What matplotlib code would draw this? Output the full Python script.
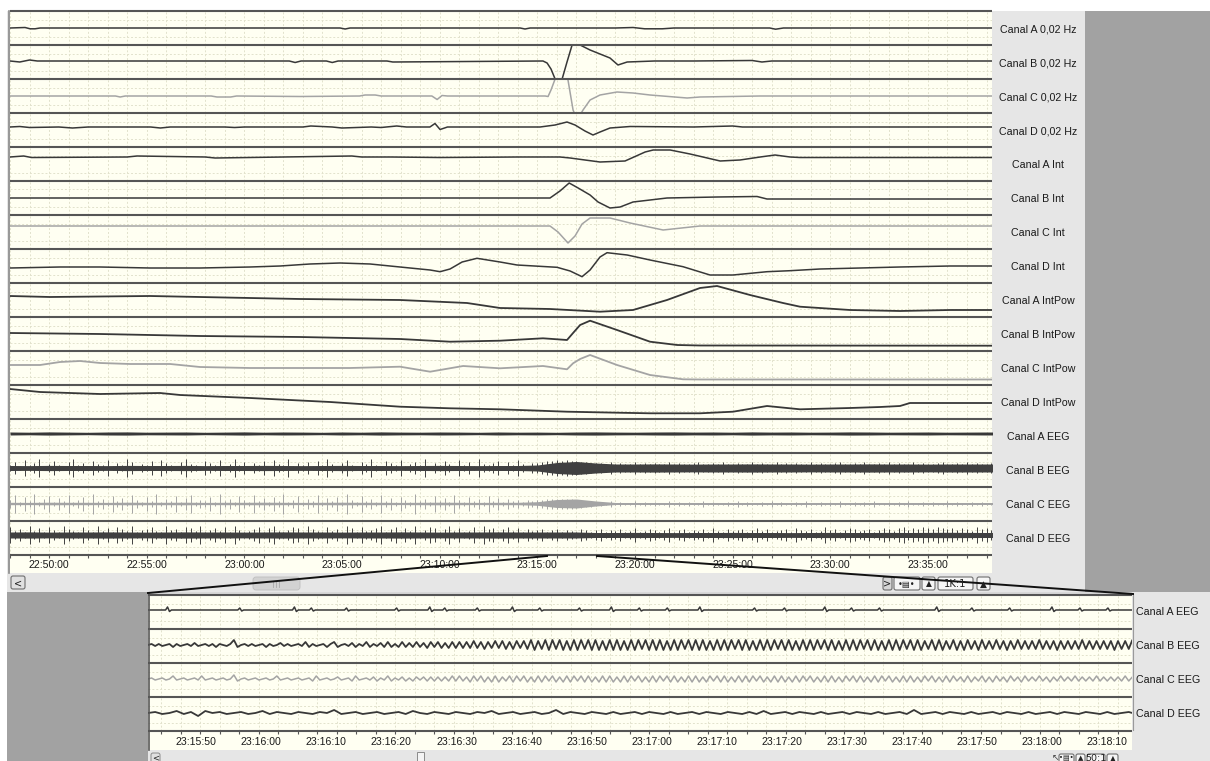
import numpy as np
import matplotlib
matplotlib.use("Agg")
import matplotlib.pyplot as plt
from matplotlib.patches import Rectangle, FancyBboxPatch

plt.rcParams['font.family'] = ['Liberation Sans', 'DejaVu Sans']

# ---------------- DATA ----------------
# top view: time in minutes after 22:50:00, amplitude in display units (channel half-range 17)
TOP_TIME_POS = [0, 5, 10, 15, 20, 25, 30, 35, 40, 45]
TOP_TIME_LABELS = ["22:50:00", "22:55:00", "23:00:00", "23:05:00", "23:10:00",
                   "23:15:00", "23:20:00", "23:25:00", "23:30:00", "23:35:00"]
TOP_LABELS = ["Canal A 0,02 Hz", "Canal B 0,02 Hz", "Canal C 0,02 Hz", "Canal D 0,02 Hz",
              "Canal A Int", "Canal B Int", "Canal C Int", "Canal D Int",
              "Canal A IntPow", "Canal B IntPow", "Canal C IntPow", "Canal D IntPow",
              "Canal A EEG", "Canal B EEG", "Canal C EEG", "Canal D EEG"]

A002_T = [-2.0, -1.23, -0.97, -0.72, -0.46, 14.9, 15.16, 15.41, 24.12, 24.37, 24.63, 29.0, 29.9, 30.5, 31.4, 32.0, 36.9, 37.2, 37.6, 48.28]
A002_V = [0, 0.5, -0.8, -0.8, 0, 0, -1, 0, 0, -1, 0, 0, 0.5, -0.8, -0.8, 0, 0, -1.2, 0, 0]
B002_T = [-2.0, -1.5, -1.0, -0.6, 12.3, 12.6, 12.9, 14.2, 14.5, 14.8, 17.3, 17.6, 25.29, 25.5, 25.7, 25.91, 26.11, 26.27,
          26.52, 26.78, 26.98, 27.19, 27.7, 28.21, 28.72, 29.13, 29.6, 31.0, 33.0, 36.0, 36.5, 37.0, 48.28]
B002_V = [1, 0, 2, 1, 1, -0.5, 1, 1, -0.5, 1, 1, 0, 1, -1, -7, -17, -25, -17, 0, 17, 21, 17, 12, 8, 4, -3, 0, 1, 1, 1.5, 0, 1, 1]
C002_T = [-2.0, 3.4, 3.64, 3.9, 8.3, 8.6, 9.3, 9.6, 12.85, 15.9, 16.18, 16.7, 17.0, 19.6, 19.87, 20.12, 20.4, 25.4, 25.55,
          25.7, 25.91, 26.11, 26.37, 26.57, 26.83, 27.04, 27.34, 27.7, 28.21, 29.08, 29.9, 30.77, 32.67, 33.33, 36.4, 48.28]
C002_V = [0, 0, -1, 0, 0, -1, -1, 0, -0.5, 0, 1, 1, 0, 0, -3.5, 0.5, 0, 0, -0.5, 6, 17, 24, 24, 16, -14, -24, -14, -4, 1, 4,
          3, 1, -2, -1, 0, 0]
D002_T = [-2.0, -1.5, -1.0, 0.5, 1.2, 2.0, 5.2, 5.7, 6.2, 9.0, 9.5, 10.0, 13.0, 13.4, 14.5, 15.0, 16.5, 17.0, 17.8, 18.3,
          19.5, 19.76, 20.02, 20.4, 25.14, 25.91, 26.52, 26.93, 27.44, 27.85, 28.21, 28.72, 29.75, 33.0, 35.0, 35.5, 40.0, 48.28]
D002_V = [3, 3.5, 2.5, 3, 2, 3, 3, 2, 3, 3, 2.5, 3, 3, 4, 3, 2, 3, 2.5, 4, 3, 3, 6.5, 0.5, 3, 3, 5, 8, 5, -1, -5, -2, 2, 3.5,
          3, 4, 3, 3, 3]
AINT_T = [-2.0, -1.3, -0.9, 4.0, 4.5, 8.0, 8.5, 12.0, 15.5, 16.0, 17.5, 20.0, 24.0, 26.16, 26.68, 27.44, 28.21, 29.49, 30.52,
          30.93, 31.8, 32.82, 34.36, 35.38, 36.41, 37.17, 37.94, 38.45, 48.28]
AINT_V = [7, 8, 6.5, 7, 8, 7, 6, 7, 8, 7, 7, 6.5, 7, 7, 6, 4, 2, 3, 12, 14, 14, 10, 3, 4, 7, 9, 7, 6.5, 6.5]
BINT_T = [-2.0, 25.65, 26.16, 26.63, 27.09, 27.7, 28.11, 28.72, 29.24, 29.9, 31.64, 34.2, 36.25, 36.76, 48.28]
BINT_V = [0, 0, 7, 15, 10, 3, -4, -10, -9, -4, 0, 1, 1.5, -1, -1]
CINT_T = [-2.0, 25.65, 26.06, 26.57, 26.93, 27.29, 27.7, 28.72, 29.75, 31.44, 33.33, 38.45, 48.28]
CINT_V = [6, 6, 0, -11, -4, 8, 14, 14, 9, 2, 6, 6, 6]
DINT_T = [-2.0, 0.56, 2.61, 5.17, 7.73, 10.29, 11.83, 13.36, 14.9, 16.44, 17.97, 19.51, 20.02, 20.53, 21.15, 21.91, 23.09,
          23.96, 26.01, 26.68, 27.29, 27.7, 28.21, 28.57, 29.6, 30.77, 32.46, 33.84, 35.02, 36.76, 37.94, 39.48, 41.53, 43.57,
          46.13, 48.28]
DINT_V = [-2, -1, -1, -2, -2, -1, 0, 2, 3, 2, -1, -4, -5.7, -3, 4, 7.7, 4, 1, -1.3, -5, -10.7, -4, 9, 13.3, 11, 6, -0.7, -9,
          -9, -5.7, -4.7, -3, -2, -1, 0, 0]
APOW_T = [-2.0, 0.05, 2.61, 5.17, 7.73, 10.29, 12.85, 15.41, 17.97, 21.4, 23.09, 25.65, 28.21, 29.9, 31.64, 33.33, 34.2, 35.89,
          37.58, 38.45, 41.01, 43.57, 46.13, 48.28]
APOW_V = [4, 3, 3.5, 4, 3, 2, 1, 0.5, 0, -3, -8, -9, -11.7, -10, 0, 12, 14, 5, -3, -6.7, -10, -11, -10, -10]
BPOW_T = [-2.0, 2.61, 7.73, 12.85, 17.97, 20.53, 23.09, 25.29, 26.52, 26.83, 27.19, 27.7, 29.08, 30.77, 32.16, 33.33, 48.28]
BPOW_V = [1, 0, -2, -3, -5, -7.7, -6.7, -4.3, -6, 1, 9, 13.3, 4, -7.7, -11, -11.5, -11.7]
CPOW_T = [-2.0, -0.46, 0.56, 1.59, 2.61, 4.15, 6.2, 7.73, 10.29, 12.85, 15.41, 17.97, 19.51, 21.2, 23.09, 25.29, 26.52, 26.83,
          27.19, 27.7, 29.08, 30.77, 32.46, 33.33, 48.28]
CPOW_V = [3, 3, 6, 7, 5, 4, 4, 1, 0, 0, 0, 1.3, -3.7, 2, -0.3, 2, -1.3, 4.7, 9, 13, 3, -7, -11.3, -11.5, -11.5]
DPOW_T = [-2.0, -0.46, 2.61, 5.68, 6.71, 10.29, 14.39, 17.97, 20.53, 23.09, 26.52, 29.08, 30.77, 33.33, 35.02, 36.76, 38.45,
          41.01, 42.55, 43.57, 44.08, 46.13, 48.28]
DPOW_V = [13, 10, 8, 9, 7, 4, 0, -4.7, -6.3, -7.3, -9.7, -10.7, -11.3, -11.3, -9.7, -4, -7.3, -6, -5, -4, -1, -1, -1]

# EEG (top): band half-width per minute from -2 min, spike half-heights every 0.25 min from -2 min
A_EEG_CORE = [1.5, 1.3, 1.6, 1.4, 1.2, 1.5, 1.6, 1.3, 1.4, 1.5, 1.2, 1.4, 1.6, 1.3, 1.5, 1.4, 1.2, 1.5, 1.3, 1.6,
              1.4, 1.3, 1.5, 1.4, 1.2, 1.5, 1.3, 1.4, 1.2, 1.5, 1.6, 1.4, 1.3, 1.5, 1.6, 1.4, 1.5, 1.3, 1.6, 1.4,
              1.5, 1.3, 1.4, 1.6, 1.5, 1.3, 1.4, 1.5, 1.3, 1.4, 1.5, 1.4]
B_EEG_CORE = [2.5, 2.4, 2.6, 2.5, 2.5, 2.4, 2.6, 2.5, 2.5, 2.6, 2.4, 2.5, 2.5, 2.6, 2.5, 2.4, 2.5, 2.6, 2.5, 2.5,
              2.4, 2.5, 2.6, 2.5, 2.4, 2.5, 2.5, 3.0, 5.5, 6.5, 5.0, 4.0, 4.0, 4.1, 4.0, 3.9, 4.0, 4.0, 4.1, 4.0,
              4.0, 3.9, 4.0, 4.0, 4.1, 4.0, 4.0, 3.9, 4.0, 4.0, 4.0, 4.0]
C_EEG_CORE = [1.2, 1.1, 1.3, 1.2, 1.2, 1.1, 1.3, 1.2, 1.2, 1.3, 1.1, 1.2, 1.2, 1.3, 1.2, 1.1, 1.2, 1.3, 1.2, 1.2,
              1.1, 1.2, 1.3, 1.2, 1.1, 1.2, 1.2, 1.8, 4.0, 4.5, 2.5, 1.0, 1.0, 1.0, 1.0, 1.0, 1.0, 1.0, 1.0, 1.0,
              1.0, 1.0, 1.0, 1.0, 1.0, 1.0, 1.0, 1.0, 1.0, 1.0, 1.0, 1.0]
D_EEG_CORE = [3.0, 3.1, 2.9, 3.0, 3.0, 3.1, 3.0, 2.9, 3.0, 3.1, 3.0, 3.0, 2.9, 3.0, 3.1, 3.0, 3.0, 2.9, 3.0, 3.0,
              3.1, 3.0, 2.9, 3.0, 3.0, 3.1, 3.0, 3.0, 3.0, 3.0, 2.5, 2.5, 2.6, 2.5, 2.4, 2.5, 2.5, 2.6, 2.5, 2.5,
              2.4, 2.5, 2.6, 2.5, 2.5, 2.6, 2.5, 2.6, 2.7, 2.6, 2.5, 2.6]
B_EEG_SPK = [3, 6, 2, 8, 3, 5, 9, 2, 4, 7, 3, 2, 6, 9, 3, 5, 2, 7, 4, 3, 8, 2, 5, 3, 9, 6, 2, 4, 3, 7,
             2, 8, 5, 3, 2, 6, 9, 4, 3, 2, 7, 5, 3, 8, 2, 4, 9, 3, 6, 2, 5, 3, 7, 2, 8, 4, 3, 9, 2, 5,
             3, 6, 2, 7, 3, 9, 4, 2, 5, 8, 3, 2, 6, 4, 9, 3, 2, 7, 5, 3, 8, 2, 4, 6, 3, 9, 2, 5, 3, 7,
             4, 2, 8, 3, 6, 2, 9, 4, 3, 5, 7, 2, 6, 3, 8, 4, 2, 5,
             5, 6, 7, 7, 8, 7, 8, 7, 7, 6, 6, 5, 5,
             5, 4, 6, 4, 5, 4, 4, 6, 4, 5, 4, 5, 4, 4, 6, 4, 5, 4, 4, 5, 6, 4, 4, 5, 4, 6, 4, 4, 5, 4,
             4, 6, 4, 5, 4, 4, 6, 4, 5, 4, 5, 4, 4, 6, 4, 5, 4, 4, 5, 6, 4, 4, 5, 4, 6, 4, 4, 5, 4, 6,
             4, 5, 4, 4, 6, 4, 5, 4, 4, 5, 6, 4, 4, 5, 4, 6, 4, 5, 4, 4, 5, 4, 6, 4]
C_EEG_SPK = [4, 9, 2, 7, 3, 10, 2, 5, 8, 2, 6, 3, 9, 2, 4, 7, 2, 10, 3, 5, 2, 8, 3, 6, 2, 9, 4, 2, 7, 3,
             10, 2, 5, 3, 8, 2, 6, 9, 2, 4, 3, 7, 2, 10, 3, 5, 2, 8, 4, 2, 9, 3, 6, 2, 7, 3, 10, 2, 4, 8,
             2, 5, 3, 9, 2, 6, 3, 7, 2, 10, 4, 2, 8, 3, 5, 2, 9, 3, 6, 2, 7, 4, 2, 10, 3, 5, 2, 8, 3, 6,
             2, 9, 4, 2, 7, 3, 5, 2, 8, 3, 6, 2, 5, 3, 4, 2, 4, 3,
             4, 4, 5, 5, 5, 5, 5, 5, 4, 4, 3, 3, 2,
             2, 1, 3, 1, 2, 1, 1, 3, 1, 2, 1, 2, 1, 1, 3, 1, 2, 1, 2, 1, 1, 3, 1, 2, 1, 1, 2, 1, 3, 1,
             2, 1, 1, 2, 1, 3, 1, 2, 1, 1, 2, 1, 3, 1, 1, 2, 1, 2, 1, 3, 1, 1, 2, 1, 2, 1, 3, 1, 1, 2,
             1, 2, 1, 3, 1, 1, 2, 1, 2, 1, 1, 3, 1, 2, 1, 1, 2, 1, 2, 1, 1, 2, 1, 2]
D_EEG_SPK = [8, 4, 6, 3, 9, 4, 7, 3, 8, 5, 3, 9, 6, 4, 3, 8, 5, 3, 9, 4, 7, 3, 8, 6, 4, 9, 3, 5, 6, 8,
             4, 3, 9, 5, 6, 3, 8, 7, 4, 9, 3, 5, 7, 4, 8, 3, 9, 5, 3, 4, 6, 8, 3, 7, 9, 4, 3, 5, 8, 7,
             3, 9, 6, 4, 3, 8, 4, 6, 3, 9, 7, 3, 8, 4, 5, 7, 9, 3, 6, 8, 3, 7, 4, 9, 3, 5, 8, 7, 3, 6,
             9, 4, 7, 3, 4, 8, 3, 9, 6, 7, 3, 6, 8, 4, 7, 3, 6, 4, 5, 6, 3, 5, 6, 3, 5, 4, 3, 6, 5, 3,
             5, 6, 3, 5, 4, 6, 3, 4, 7, 3, 4, 6, 5, 3, 5, 7, 3, 5, 6, 3, 5, 4, 6, 3, 7, 4, 3, 6, 4, 5,
             6, 3, 5, 7, 4, 6, 3, 4, 5, 6, 3, 7, 5, 4, 6, 3, 4, 8, 5, 6, 3, 5, 7, 6, 4, 5, 6, 3, 5, 7,
             6, 4, 7, 8, 5, 7, 6, 8, 7, 6, 8, 7, 6, 7, 5, 7, 6, 4, 8, 6, 7, 5, 6, 8, 7, 5]

# bottom view: time in seconds after 23:15:50
BOT_TIME_POS = [0, 10, 20, 30, 40, 50, 60, 70, 80, 90, 100, 110, 120, 130, 140]
BOT_TIME_LABELS = ["23:15:50", "23:16:00", "23:16:10", "23:16:20", "23:16:30", "23:16:40", "23:16:50",
                   "23:17:00", "23:17:10", "23:17:20", "23:17:30", "23:17:40", "23:17:50", "23:18:00", "23:18:10"]
BOT_LABELS = ["Canal A EEG", "Canal B EEG", "Canal C EEG", "Canal D EEG"]
A2_BLIP_T = [-4.3, 6.8, 15.2, 17.8, 23.2, 30.9, 36.0, 38.3, 43.3, 48.7, 52.9, 59.0, 63.9, 68.2, 72.5, 77.5, 85.9, 90.5,
             96.7, 100.8, 105.1, 113.9, 119.3, 125.1, 131.6, 135.9, 140.2]
A2_BLIP_H = [3, 2, 3, 2, 2, 2, 3, 2, 2, 3, 2, 2, 3, 2, 2, 3, 2, 2, 3, 2, 2, 3, 2, 2, 3, 2, 2]
B2_V = [0, 1, -1, 1, -1, 0, 1, -2, 1, -1, 0, 1, -1, 2, -1, 0, 1, -1, 1, -2, 1, 0, -1, 1, 5, -2, 0, 1, -1, 1,
        -1, 0, 1, -2, 1, -1, 0, 2, -1, 1, -1, 0, 1, -1, 3, -2, 1, -1, 0, 1, -2, 1, 3, -2, 0, 1, -1, 2, -2, 1,
        -1, 3, -2, 1, -1, 2, -2, 3, -2, 1, -2, 3, -2, 2, -2, 3, -2, 2, -3, 3, -2, 3, -3, 2, -3, 3, -3,
        3, -3, 3, -3, 4, -3, 3, -4, 3, -3, 4, -3, 4, -4, 3, -4, 4, -3, 4, -4,
        5, -5, 4, -4, 5, -5, 5, -4, 5, -5, 4, -5, 5, -5, 5, -4, 5, -5, 5, -5,
        4, -5, 5, -5, 5, -5, 4, -5, 5, -5, 5, -4, 5, -5, 5, -5, 5, -5, 4, -5,
        5, -5, 5, -4, 5, -5, 5, -5, 5, -5, 4, -5, 5, -5, 5, -5, 5, -4, 5, -5,
        5, -5, 4, -5, 5, -5, 5, -5, 5, -4, 5, -5, 5, -5, 4, -5, 5, -5, 5, -5,
        5, -4, 5, -5, 5, -5, 4, -5, 5, -5, 5, -5, 5, -4, 5, -5, 5, -5, 4, -5,
        5, -5, 5, -5, 5, -4, 5, -5, 5, -5, 4, -4, 5, -5, 5, -5, 4, -4, 5, -5,
        4, -5, 5, -4, 4, -5, 5, -4, 4, -4, 5, -4, 4, -5, 4, -4, 5, -4, 4, -4,
        4, -4, 5, -4, 4, -4, 4, -5, 4, -4, 4, -4, 4, -4, 5, -4, 4, -4, 4, -4,
        4, -4, 4, -5, 4, -4, 4, -4, 5, -4, 4, -4, 4, -4, 4, -5, 4, -4, 4, -4]
C2_V = [0, 1, -1, 0, 1, -1, 0, 3, -1, 0, 1, -1, 0, 1, -1, 3, -1, 0, 1, -1, 0, 1, -1, 0, 4, -2, 0, 1, -1, 0,
        1, -1, 0, 1, -1, 0, 3, -1, 0, 1, -1, 0, 1, -1, 0, 1, -2, 3, -1, 0, 1, -1, 0, 2, -1, 0, 1, -2, 3, -1,
        0, 1, -1, 2, -2, 1, -1, 3, -2, 1, -1, 2, -2, 1, -2, 2, -1, 2, -2, 2, -2, 2, -2, 2, -2, 3, -2,
        3, -2, 2, -3, 3, -2, 3, -3, 2, -3, 3, -3, 2, -2, 3, -3, 3, -2, 3, -3,
        2, -3, 3, -3, 3, -2, 3, -3, 2, -3, 3, -3, 3, -2, 3, -3, 3, -3, 2, -3,
        3, -3, 3, -3, 2, -3, 3, -3, 3, -2, 3, -3, 2, -3, 3, -3, 3, -2, 3, -3,
        3, -3, 2, -3, 3, -3, 3, -3, 2, -3, 3, -2, 3, -3, 3, -3, 2, -3, 3, -3,
        3, -3, 3, -2, 3, -3, 2, -3, 3, -3, 3, -3, 2, -3, 3, -3, 3, -2, 3, -3,
        2, -3, 3, -3, 3, -3, 2, -3, 3, -2, 3, -3, 3, -3, 2, -3, 3, -3, 3, -2,
        3, -3, 2, -3, 3, -3, 3, -3, 2, -3, 3, -2, 3, -3, 2, -3, 3, -3, 3, -2,
        2, -3, 3, -3, 2, -2, 3, -3, 2, -3, 3, -2, 2, -3, 3, -2, 2, -3, 3, -2,
        2, -2, 3, -2, 2, -3, 2, -2, 3, -2, 2, -2, 3, -2, 2, -2, 2, -2, 3, -2,
        2, -2, 2, -2, 2, -2, 3, -2, 2, -2, 2, -3, 2, -2, 2, -2, 3, -2, 2, -2]
D2_V = [0, 1, -1, 0, 2, -1, 1, -3, 2, 0, 1, -1, 0, 1, -1, 0, 2, -1, 1, 0, -1, 1, 0, -1, 1, 0, 3, -1, 0, 1,
        -1, 0, 1, -1, 0, 1, -1, 2, 0, -1, 1, 0, -1, 1, 0, -1, 1, 0, 2, -1, 0, 1, -1, 0, 1, -1, 0, 3, -1, 1,
        0, -1, 1, 0, -1, 1, -1, 0, 1, -1, 1, 0, -1, 1, -1, 0, 1, -1, 1, 0, -1, 1, 0, -1, 1, -1, 2, -1, 0, 1,
        -1, 1, 0, -1, 1, -1, 0, 1, -1, 1, 0, -1, 1, -1, 0, 1, -1, 3, -1, 0, 1, -1, 1, 0, -1, 1, -1, 0, 1, -1,
        1, 0, -1, 1, -1, 0, 1, -1, 1, 0, -1, 1, 0, -1, 1, -1, 0, 1, -1, 0, 1, -1]

# ---------------- LAYOUT / STYLE ----------------
W, H = 1210, 761
CREAM = '#fffff2'
GRID = '#e2e2cc'
DARK = '#383838'
LIGHT = '#a4a4a4'
PANEL = '#e6e6e6'
SHADE = '#a2a2a2'

fig = plt.figure(figsize=(W / 100, H / 100), dpi=100)
fig.patch.set_facecolor('white')


def prect(x0, y0, x1, y1):
    return [x0 / W, 1 - y1 / H, (x1 - x0) / W, (y1 - y0) / H]


bg = fig.add_axes([0, 0, 1, 1], zorder=0)
bg.set_xlim(0, W); bg.set_ylim(H, 0); bg.axis('off')
bg.add_patch(Rectangle((7, 11), 1085 - 7, 592 - 11, color=PANEL, lw=0))
bg.add_patch(Rectangle((1085, 11), W - 1085, 592 - 11, color=SHADE, lw=0))
bg.add_patch(Rectangle((7, 592), 148 - 7, H - 592, color=SHADE, lw=0))
bg.add_patch(Rectangle((1132, 592), W - 1132, H - 592, color=PANEL, lw=0))
bg.add_patch(Rectangle((148, 750), 1132 - 148, H - 750, color=PANEL, lw=0))
bg.add_patch(Rectangle((148, 592), 1132 - 148, 3, color='#d8d8d8', lw=0))

TX0, TX1 = 10, 992
TOP_Y0, ROWH = 11, 34
TXLIM = (-2.0, 48.28)
BX0, BX1 = 148, 1132
BOT_Y0 = 595
BXLIM = (-7.4, 143.8)
BOT_GRID0 = -5.4


def chan_axes(x0, x1, y0, xlim, gx):
    ax = fig.add_axes(prect(x0, y0, x1, y0 + ROWH), zorder=2)
    ax.set_facecolor(CREAM)
    ax.set_xlim(*xlim); ax.set_ylim(-17, 17)
    for s in ax.spines.values():
        s.set_visible(False)
    ax.set_xticks([]); ax.set_yticks([])
    ax.vlines(gx, -17, 17, colors=GRID, lw=0.7, linestyles=(0, (2, 2)), zorder=1)
    ax.hlines([-8.5, 8.5], xlim[0], xlim[1], colors=GRID, lw=0.7, linestyles=(0, (2, 2)), zorder=1)
    return ax


top_grid = np.arange(-2, 49)
bot_grid = np.arange(BOT_GRID0, BXLIM[1], 3.0)

slow = [(A002_T, A002_V, DARK), (B002_T, B002_V, DARK), (C002_T, C002_V, LIGHT), (D002_T, D002_V, DARK),
        (AINT_T, AINT_V, DARK), (BINT_T, BINT_V, DARK), (CINT_T, CINT_V, LIGHT), (DINT_T, DINT_V, DARK),
        (APOW_T, APOW_V, DARK), (BPOW_T, BPOW_V, DARK), (CPOW_T, CPOW_V, LIGHT), (DPOW_T, DPOW_V, DARK)]
for i, (t, v, c) in enumerate(slow):
    ax = chan_axes(TX0, TX1, TOP_Y0 + i * ROWH, TXLIM, top_grid)
    lw = 1.3 if i >= 8 else 1.1
    ax.plot(t, v, color=c, lw=lw, zorder=3)

eeg = [(A_EEG_CORE, None, 2.5, DARK), (B_EEG_CORE, B_EEG_SPK, 2.0, '#404040'),
       (C_EEG_CORE, C_EEG_SPK, 0.5, LIGHT), (D_EEG_CORE, D_EEG_SPK, 3.0, '#404040')]
for j, (core, spk, base, c) in enumerate(eeg):
    ax = chan_axes(TX0, TX1, TOP_Y0 + (12 + j) * ROWH, TXLIM, top_grid)
    core = np.array(core, float)
    tc = TXLIM[0] + np.arange(len(core))
    ax.fill_between(tc, base - core, base + core, color=c, lw=0, zorder=3)
    if spk is not None:
        spk = np.array(spk, float)
        ts = TXLIM[0] + 0.25 * np.arange(len(spk))
        ax.vlines(ts, base - spk, base + spk, colors=c, lw=0.7, zorder=3)

# top time axis
axt = fig.add_axes(prect(TX0, 555, TX1, 573), zorder=2)
axt.set_facecolor(CREAM); axt.set_xlim(*TXLIM); axt.set_ylim(0, 1)
for s in axt.spines.values():
    s.set_visible(False)
axt.set_xticks([]); axt.set_yticks([])
axt.vlines(top_grid, 0.82, 1.0, colors='#555555', lw=0.8)
for p, lab in zip(TOP_TIME_POS, TOP_TIME_LABELS):
    axt.text(p, 0.42, lab, ha='center', va='center', fontsize=7.6, color='#1a1a1a')

# bottom channels
a2t, a2v = [BXLIM[0]], [0.0]
for bt, bh in zip(A2_BLIP_T, A2_BLIP_H):
    a2t += [bt - 0.4, bt - 0.1, bt + 0.2, bt + 0.5]
    a2v += [0, bh, -0.5 * bh, 0]
a2t.append(BXLIM[1]); a2v.append(0.0)
bot = [(a2t, np.array(a2v) + 2, DARK, 1.1),
       (BXLIM[0] + 0.55 * np.arange(len(B2_V)), np.array(B2_V, float) + 1, DARK, 1.3),
       (BXLIM[0] + 0.55 * np.arange(len(C2_V)), np.array(C2_V, float) + 1, LIGHT, 1.1),
       (BXLIM[0] + 1.1 * np.arange(len(D2_V)), np.array(D2_V, float) + 1, DARK, 1.3)]
for k, (t, v, c, lw) in enumerate(bot):
    ax = chan_axes(BX0, BX1, BOT_Y0 + k * ROWH, BXLIM, bot_grid)
    ax.plot(t, v, color=c, lw=lw, zorder=3)

axb = fig.add_axes(prect(BX0, 731, BX1, 750), zorder=2)
axb.set_facecolor(CREAM); axb.set_xlim(*BXLIM); axb.set_ylim(0, 1)
for s in axb.spines.values():
    s.set_visible(False)
axb.set_xticks([]); axb.set_yticks([])
axb.vlines(bot_grid, 0.82, 1.0, colors='#555555', lw=0.8)
for p, lab in zip(BOT_TIME_POS, BOT_TIME_LABELS):
    axb.text(p, 0.42, lab, ha='center', va='center', fontsize=7.6, color='#1a1a1a')

# overlay: separators, labels, scrollbars, zoom lines
ov = fig.add_axes([0, 0, 1, 1], zorder=10)
ov.set_xlim(0, W); ov.set_ylim(H, 0); ov.axis('off')
ov.patch.set_alpha(0)
for k in range(17):
    y = TOP_Y0 + k * ROWH
    ov.plot([TX0, TX1], [y, y], color='#555555', lw=1.5, solid_capstyle='butt')
ov.plot([9, 9], [11, 573], color='#8a8a8a', lw=1.2)
for k in range(5):
    y = BOT_Y0 + k * ROWH
    ov.plot([BX0, BX1], [y, y], color='#555555', lw=1.5, solid_capstyle='butt')
ov.plot([BX0 + 0.5, BX0 + 0.5], [594, 750], color='#555555', lw=1.2)
ov.plot([BX1 + 0.5, BX1 + 0.5], [594, 730], color='#9a9a9a', lw=0.8)

for i, lab in enumerate(TOP_LABELS):
    ov.text(1038, TOP_Y0 + i * ROWH + ROWH / 2 + 1, lab, ha='center', va='center', fontsize=7.7, color='#1a1a1a')
for k, lab in enumerate(BOT_LABELS):
    ov.text(1136, BOT_Y0 + k * ROWH + ROWH / 2, lab, ha='left', va='center', fontsize=7.7, color='#1a1a1a')


def button(x0, y0, x1, y1, txt, fs=7, fc='#f6f6f6', ty=None):
    ov.add_patch(FancyBboxPatch((x0, y0), x1 - x0, y1 - y0, boxstyle='round,pad=0,rounding_size=2',
                                fc=fc, ec='#6e6e6e', lw=0.8))
    ov.text((x0 + x1) / 2, (y0 + y1) / 2 + 0.5 if ty is None else ty, txt, ha='center', va='center',
            fontsize=fs, color='#222222', family=['DejaVu Sans'])


# top scrollbar
button(11, 576, 25, 589, '<', fs=7, fc='#e0e0e0')
ov.add_patch(FancyBboxPatch((253, 577), 47, 13, boxstyle='round,pad=0,rounding_size=3', fc='#d2d2d2', ec='#bdbdbd', lw=0.6))
for gx in (273, 276, 279):
    ov.plot([gx, gx], [580.5, 586.5], color='#a8a8a8', lw=0.6)
button(883, 577, 892, 590, '>', fs=7, fc='#d6d6d6')
button(894, 577, 920, 590, '•▤•', fs=6)
button(922, 577, 935, 590, '▲', fs=5.5)
button(938, 577, 973, 590, '1K:1', fs=7.2)
button(977, 577, 990, 590, '▲', fs=6.5)

# bottom scrollbar
ov.add_patch(FancyBboxPatch((151, 753), 9, 12, boxstyle='round,pad=0,rounding_size=2', fc='#e0e0e0', ec='#8a8a8a', lw=0.7))
ov.text(155.5, 757.5, '<', ha='center', va='center', fontsize=6, color='#222222', family=['DejaVu Sans'])
ov.add_patch(Rectangle((417, 752), 7, 12, fc='#f4f4f4', ec='#8a8a8a', lw=0.7))
ov.text(1055, 757.5, '↖', ha='center', va='center', fontsize=6.5, color='#444444', family=['DejaVu Sans'])
button(1059, 754, 1074, 766, '•▤•', fs=5, ty=758.5)
button(1076, 754, 1085, 766, '▲', fs=5, ty=758.5)
button(1087, 754, 1105, 766, '50:1', fs=6.8, ty=758.5)
button(1107, 754, 1118, 766, '▲', fs=5.5, ty=758.5)

# zoom lines
ov.plot([547, 148], [556, 593], color='#111111', lw=1.4)
ov.plot([597, 1133], [556, 594], color='#111111', lw=1.4)

fig.savefig('out.png', dpi=100, facecolor=fig.get_facecolor())
